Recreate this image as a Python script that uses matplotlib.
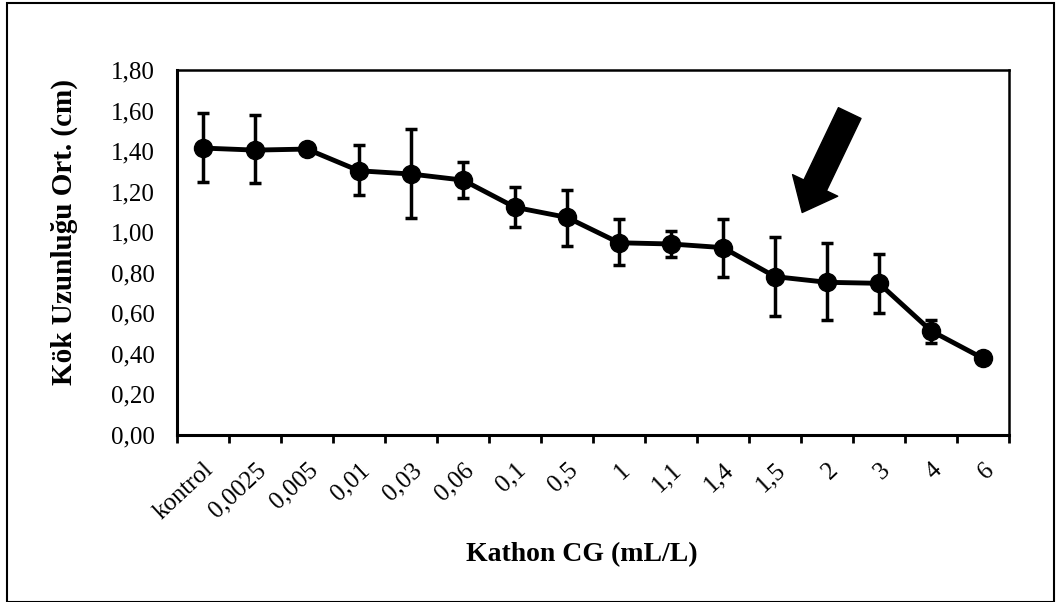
import numpy as np
import matplotlib
matplotlib.use('Agg')
import matplotlib.pyplot as plt
from matplotlib.patches import Rectangle
from matplotlib.ticker import FuncFormatter, FixedLocator

plt.rcParams['font.family'] = ['Liberation Serif', 'DejaVu Serif']

# data
doses = ['kontrol', '0,0025', '0,005', '0,01', '0,03', '0,06', '0,1', '0,5',
         '1', '1,1', '1,4', '1,5', '2', '3', '4', '6']
root_mean = [1.415, 1.405, 1.41, 1.303, 1.287, 1.257, 1.123, 1.073,
             0.948, 0.942, 0.924, 0.781, 0.753, 0.748, 0.514, 0.378]
err_upper = [1.586, 1.578, 1.41, 1.430, 1.507, 1.348, 1.221, 1.208,
             1.063, 1.007, 1.063, 0.978, 0.945, 0.893, 0.567, 0.378]
err_lower = [1.249, 1.241, 1.41, 1.183, 1.068, 1.167, 1.024, 0.934,
             0.838, 0.876, 0.781, 0.587, 0.567, 0.603, 0.455, 0.378]

x = np.arange(len(doses))
y = np.array(root_mean)
yerr = [y - np.array(err_lower), np.array(err_upper) - y]

fig = plt.figure(figsize=(10.59, 6.02), dpi=100)
ax = fig.add_axes([177/1059, 1 - 435/602, 832/1059, 365/602])

ax.errorbar(x, y, yerr=yerr, color='black', lw=3.5, marker='o', ms=13,
            elinewidth=2.5, capsize=4.3, capthick=2.5)

ax.set_xlim(-0.5, len(doses) - 0.5)
ax.set_ylim(0, 1.8)
ax.set_yticks(np.arange(0, 1.81, 0.2))
ax.yaxis.set_major_formatter(FuncFormatter(lambda v, p: f'{v:.2f}'.replace('.', ',')))
ax.tick_params(axis='y', length=0, pad=16, labelsize=18)

# labels sit under the categories, tick marks between them
ax.set_xticks(x)
ax.set_xticklabels(doses, rotation=43, ha='right', rotation_mode='anchor', fontsize=18)
ax.xaxis.set_minor_locator(FixedLocator(np.arange(-0.5, len(doses), 1)))
ax.tick_params(axis='x', which='major', length=0, pad=17)
ax.tick_params(axis='x', which='minor', length=6, width=2, direction='out')

for s in ['left', 'bottom']:
    ax.spines[s].set_linewidth(2.2)
for s in ['top', 'right']:
    ax.spines[s].set_linewidth(1.8)

ax.set_ylabel('Kök Uzunluğu Ort. (cm)', fontsize=21, fontweight='bold')
ax.yaxis.set_label_coords(-0.119, 0.556)
ax.set_xlabel('Kathon CG (mL/L)', fontsize=20, fontweight='bold')
ax.xaxis.set_label_coords(0.487, -0.293)

# block arrow pointing at the 1,5 dose
ax.annotate('', xy=(11.5, 1.085), xytext=(12.46, 1.60),
            arrowprops=dict(arrowstyle='simple,head_length=1.2,head_width=2.0,tail_width=1.0',
                            fc='black', ec='black', mutation_scale=18))

fig.patches.append(Rectangle((7/1059, 0), 1047/1059, 1 - 3/602, transform=fig.transFigure,
                             fill=False, ec='black', lw=1.5))

fig.savefig('out.png', dpi=100)
